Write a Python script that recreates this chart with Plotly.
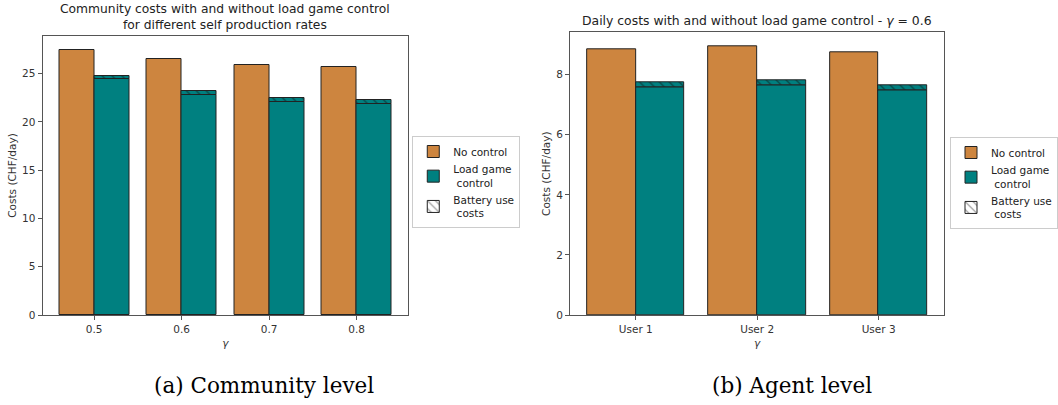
import plotly.graph_objects as go

# ---- data ----
gamma_labels = ["0.5", "0.6", "0.7", "0.8"]
comm_no_control = [27.5, 26.55, 25.93, 25.7]
comm_load_game = [24.45, 22.75, 22.06, 21.9]
comm_battery = [0.3, 0.5, 0.42, 0.4]

user_labels = ["User 1", "User 2", "User 3"]
user_no_control = [8.84, 8.96, 8.76]
user_load_game = [7.59, 7.66, 7.49]
user_battery = [0.15, 0.15, 0.14]

ORANGE = "#CD853F"
TEAL = "#008080"
FONT = "DejaVu Sans"
W, H = 1058, 405

fig = go.Figure()

def add_panel(cats, noc, lg, bat, xa, ya, leg):
    n = len(cats)
    idx = list(range(n))
    fig.add_trace(go.Bar(x=[i - 0.2 for i in idx], y=noc, width=0.4, name="No control",
                         marker=dict(color=ORANGE, line=dict(color="#222", width=1)),
                         xaxis=xa, yaxis=ya, legend=leg, showlegend=True))
    fig.add_trace(go.Bar(x=[i + 0.2 for i in idx], y=lg, width=0.4, name="Load game<br> control",
                         marker=dict(color=TEAL, line=dict(color="#222", width=1)),
                         xaxis=xa, yaxis=ya, legend=leg, showlegend=True))
    fig.add_trace(go.Bar(x=[i + 0.2 for i in idx], y=bat, base=lg, width=0.4, name="Battery use<br> costs",
                         marker=dict(color=TEAL, line=dict(color="#222", width=1),
                                     pattern=dict(shape="\\", fgcolor="#111", bgcolor=TEAL, size=7, solidity=0.2)),
                         xaxis=xa, yaxis=ya, legend=leg, showlegend=False))
    # legend-only entry (white hatched box)
    fig.add_trace(go.Bar(x=[None], y=[None], name="Battery use<br> costs",
                         marker=dict(color="white", line=dict(color="#222", width=1),
                                     pattern=dict(shape="\\", fgcolor="#222", bgcolor="white", size=7, solidity=0.2)),
                         xaxis=xa, yaxis=ya, legend=leg, showlegend=True))

add_panel(gamma_labels, comm_no_control, comm_load_game, comm_battery, "x", "y", "legend")
add_panel(user_labels, user_no_control, user_load_game, user_battery, "x2", "y2", "legend2")

axis_common = dict(showline=True, linecolor="#555", linewidth=1, mirror=True, showgrid=False,
                   zeroline=False, ticks="outside", ticklen=4, tickcolor="#555", automargin=False,
                   tickfont=dict(family=FONT, size=10.5, color="#333"))

def py(top_px, bot_px):
    return [(H - bot_px) / H, (H - top_px) / H]

title_font = dict(family=FONT, size=10.5, color="#333")
legend_common = dict(xanchor="left", yanchor="top", bgcolor="white", bordercolor="#ccc", borderwidth=1,
                     font=dict(family=FONT, size=10.5, color="#222"), tracegroupgap=0, itemwidth=30)

fig.update_layout(
    width=W, height=H,
    margin=dict(l=0, r=0, t=0, b=0),
    paper_bgcolor="white", plot_bgcolor="white",
    barmode="overlay", bargap=0,
    font=dict(family=FONT, size=10.5, color="#333"),
    xaxis=dict(domain=[43 / W, 413 / W], range=[-0.59, 3.59], tickmode="array",
               tickvals=list(range(len(gamma_labels))), ticktext=gamma_labels,
               title=dict(text="<i>γ</i>", font=title_font, standoff=6),
               anchor="y", **axis_common),
    yaxis=dict(domain=py(36, 315), range=[0, 28.9], tickvals=[0, 5, 10, 15, 20, 25],
               title=dict(text="Costs (CHF/day)", font=title_font, standoff=3),
               anchor="x", **axis_common),
    xaxis2=dict(domain=[576.7 / W, 955 / W], range=[-0.54, 2.54], tickmode="array",
                tickvals=list(range(len(user_labels))), ticktext=user_labels,
                title=dict(text="<i>γ</i>", font=title_font, standoff=6),
                anchor="y2", **axis_common),
    yaxis2=dict(domain=py(32.3, 315), range=[0, 9.41], tickvals=[0, 2, 4, 6, 8],
                title=dict(text="Costs (CHF/day)", font=title_font, standoff=3),
                anchor="x2", **axis_common),
    legend=dict(x=417 / W, y=(H - 136) / H, **legend_common),
    legend2=dict(x=961 / W, y=(H - 137) / H, **legend_common),
)

fig.add_annotation(x=228 / W, y=(H - 17) / H, xref="paper", yref="paper",
                   text="Community costs with and without load game control<br>for different self production rates",
                   showarrow=False, font=dict(family=FONT, size=12.3, color="#222"), xanchor="center", yanchor="middle")
fig.add_annotation(x=766 / W, y=(H - 20) / H, xref="paper", yref="paper",
                   text="Daily costs with and without load game control - <i>γ</i> = 0.6",
                   showarrow=False, font=dict(family=FONT, size=12.4, color="#222"), xanchor="center", yanchor="middle")
fig.add_annotation(x=267 / W, y=(H - 385) / H, xref="paper", yref="paper",
                   text="(a) Community level", showarrow=False,
                   font=dict(family="DejaVu Serif", size=21.5, color="#000"), xanchor="center", yanchor="middle")
fig.add_annotation(x=801 / W, y=(H - 385) / H, xref="paper", yref="paper",
                   text="(b) Agent level", showarrow=False,
                   font=dict(family="DejaVu Serif", size=21.5, color="#000"), xanchor="center", yanchor="middle")

fig.write_html("out.html")
